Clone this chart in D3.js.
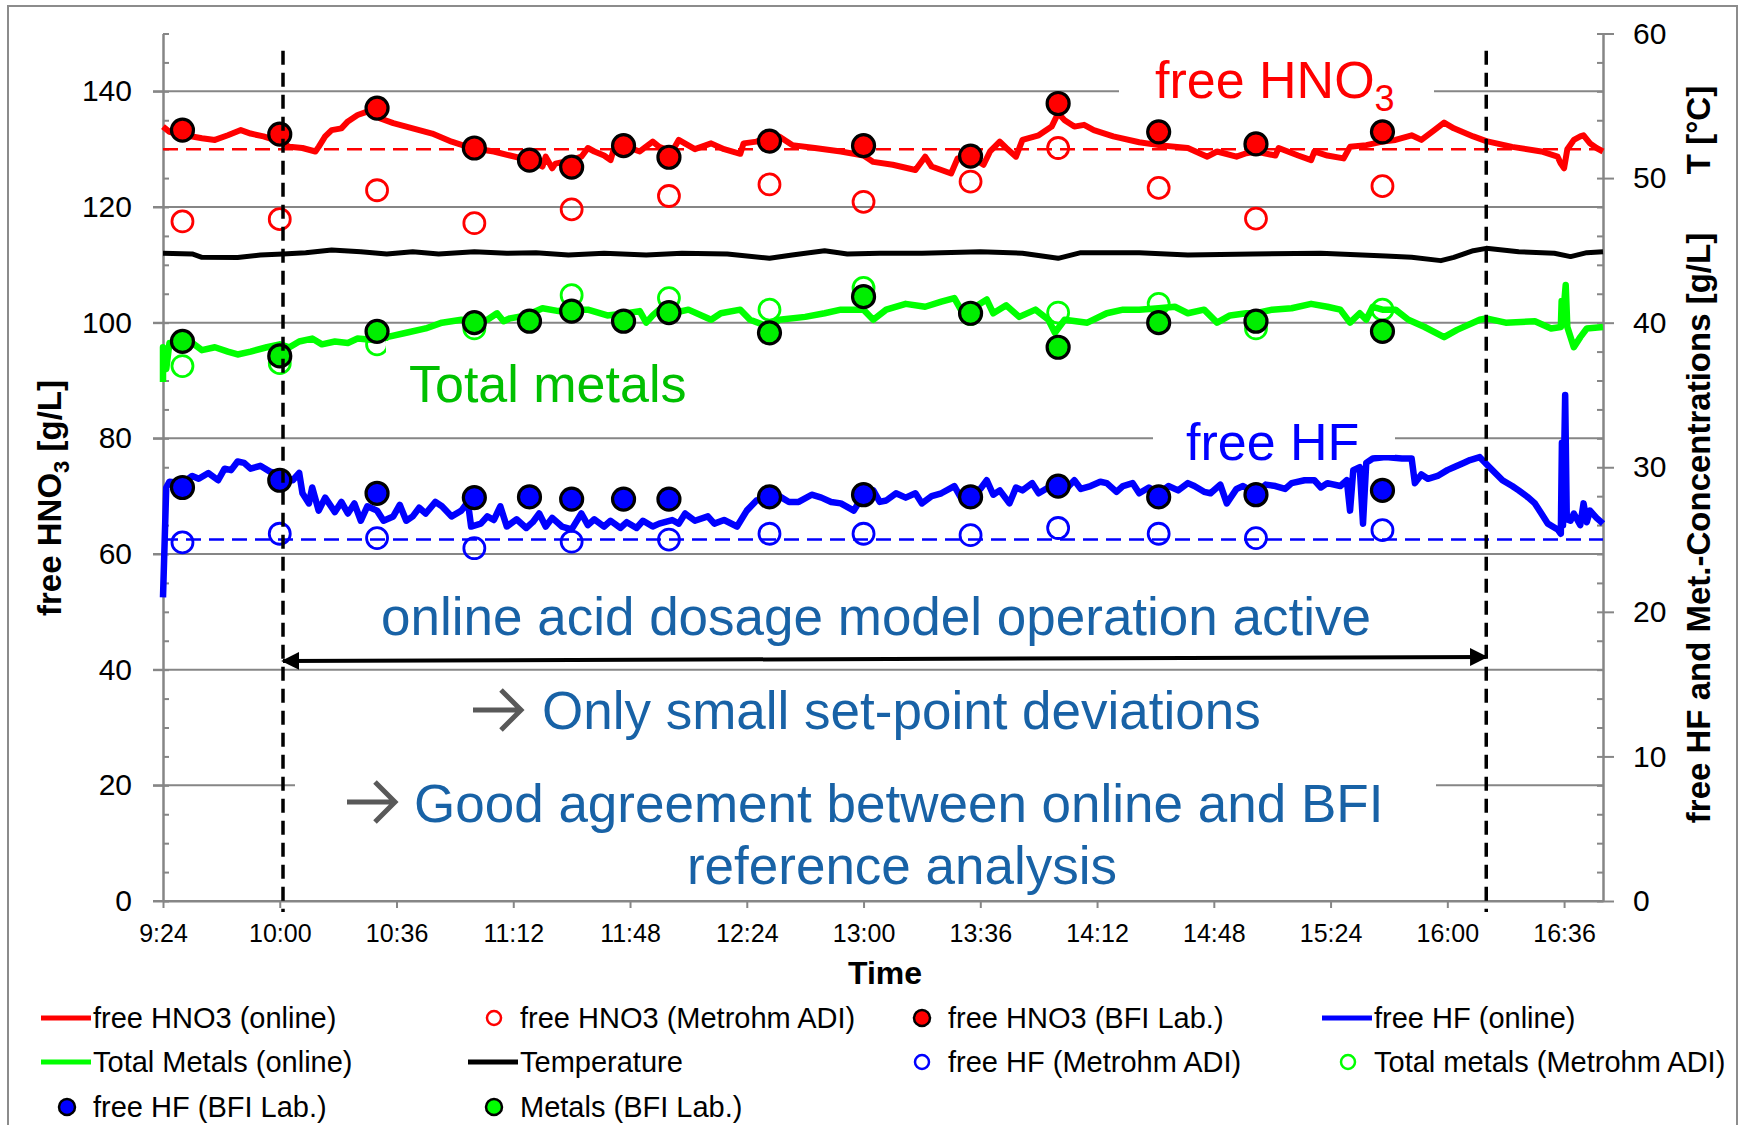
<!DOCTYPE html>
<html>
<head>
<meta charset="utf-8">
<script src="https://cdn.jsdelivr.net/npm/d3@7"></script>
<style>
body { margin: 0; background: #fff; }
svg { display: block; font-family: "Liberation Sans", Arial, sans-serif; }
.axis path, .axis line { stroke: #868686; stroke-width: 2; }
.axis text { fill: #000; font-family: "Liberation Sans", Arial, sans-serif; }
.grid line { stroke: #868686; stroke-width: 2; }
</style>
</head>
<body>
<div id="chart"></div>
<script>
const width = 1746, height = 1125;
const margin = {top: 33.5, bottom: 224, left: 163, right: 143};

// axis ticks
const xTicks = ["9:24", "10:00", "10:36", "11:12", "11:48", "12:24", "13:00", "13:36", "14:12", "14:48", "15:24", "16:00", "16:36"];
const yLeftTicks = [0, 20, 40, 60, 80, 100, 120, 140];
const yRightTicks = [0, 10, 20, 30, 40, 50, 60];

// set points
const hno3SetPoint = 130;
const hfSetPoint = 25;

// lab samples
const bfiTimes = ["9:30", "10:00", "10:30", "11:00", "11:17", "11:30", "11:46", "12:00", "12:31", "13:00", "13:33", "14:00", "14:31", "15:01", "15:40"];
const hno3Bfi = [133.3, 132.6, 137.1, 130.2, 128.1, 126.9, 130.6, 128.6, 131.4, 130.6, 128.8, 137.9, 133.0, 130.9, 133.0];
const metalsBfi = [38.7, 37.7, 39.4, 40.0, 40.1, 40.8, 40.1, 40.7, 39.3, 41.8, 40.65, 38.3, 40.0, 40.1, 39.4];
const hfBfi = [28.6, 29.1, 28.2, 27.9, 27.95, 27.8, 27.8, 27.8, 27.95, 28.1, 27.95, 28.7, 27.95, 28.1, 28.4];

const metrohmTimes = ["9:30", "10:00", "10:30", "11:00", "11:30", "12:00", "12:31", "13:00", "13:33", "14:00", "14:31", "15:01", "15:40"];
const hno3Metrohm = [117.5, 117.9, 122.9, 117.2, 119.6, 121.9, 123.9, 120.9, 124.4, 130.2, 123.3, 118.0, 123.6];
const hfMetrohm = [24.8, 25.4, 25.1, 24.4, 24.85, 25.0, 25.4, 25.4, 25.3, 25.8, 25.4, 25.1, 25.65];
const metalsMetrohm = [37.0, 37.2, 38.5, 39.6, 41.9, 41.7, 40.9, 42.4, 40.6, 40.7, 41.3, 39.6, 40.9];

// online measurements
const hno3Online = [["9:24",133.9],["9:26",133.0],["9:30",132.4],["9:33",132.2],["9:36",131.9],["9:40",131.6],["9:44",132.4],["9:48",133.3],["9:51",132.7],["9:55",132.2],["10:00",131.3],["10:03",130.4],["10:07",130.2],["10:11",129.6],["10:12",130.4],["10:14",132.2],["10:16",133.3],["10:19",133.6],["10:21",134.8],["10:24",135.9],["10:27",136.5],["10:30",137.1],["10:31",135.3],["10:35",134.5],["10:41",133.6],["10:47",132.7],["10:53",131.3],["10:59",130.2],["11:06",129.6],["11:11",128.9],["11:17",128.1],["11:21",127.0],["11:22",128.7],["11:24",126.7],["11:25",127.5],["11:30",128.1],["11:33",128.7],["11:35",130.2],["11:37",129.6],["11:40",128.9],["11:42",128.1],["11:43",130.0],["11:47",130.4],["11:51",129.6],["11:55",131.3],["11:57",130.4],["12:01",129.6],["12:03",131.6],["12:08",130.0],["12:13",131.0],["12:17",130.0],["12:22",129.2],["12:23",131.0],["12:27",131.3],["12:31",132.2],["12:34",132.2],["12:38",130.7],["12:45",130.2],["12:53",129.6],["13:00",128.9],["13:03",127.8],["13:09",127.3],["13:16",126.4],["13:19",128.7],["13:21",127.0],["13:27",125.8],["13:29",128.4],["13:33",128.7],["13:37",127.3],["13:39",129.6],["13:42",131.3],["13:44",130.2],["13:47",128.7],["13:49",131.6],["13:54",132.4],["13:58",133.9],["14:00",136.2],["14:02",135.0],["14:05",133.9],["14:08",134.2],["14:11",133.3],["14:17",132.2],["14:25",131.2],["14:31",130.7],["14:40",130.2],["14:46",128.7],["14:49",129.6],["14:55",128.7],["14:58",129.3],["15:01",129.6],["15:07",128.9],["15:08",130.2],["15:14",128.9],["15:18",128.1],["15:19",129.6],["15:23",128.9],["15:28",128.4],["15:30",130.4],["15:35",130.7],["15:40",131.3],["15:44",131.6],["15:49",132.4],["15:52",131.6],["15:56",133.3],["15:59",134.6],["16:02",133.6],["16:08",132.2],["16:12",131.4],["16:20",130.4],["16:29",129.6],["16:34",128.7],["16:35",127.5],["16:36",126.7],["16:37",130.0],["16:39",131.6],["16:41",132.2],["16:42",132.4],["16:44",131.0],["16:46",130.2],["16:48",129.6]];

const tempOnline = [["9:24",44.8],["9:33",44.75],["9:36",44.52],["9:47",44.5],["9:54",44.68],["10:01",44.75],["10:08",44.84],["10:16",45.03],["10:25",44.91],["10:33",44.75],["10:41",44.91],["10:49",44.75],["11:00",44.91],["11:10",44.8],["11:19",44.84],["11:29",44.68],["11:40",44.8],["11:53",44.68],["12:04",44.8],["12:18",44.75],["12:31",44.45],["12:38",44.68],["12:48",44.98],["12:55",44.75],["13:05",44.8],["13:18",44.8],["13:36",44.91],["13:49",44.8],["14:00",44.45],["14:07",44.84],["14:25",44.84],["14:40",44.68],["15:00",44.75],["15:21",44.8],["15:41",44.61],["15:49",44.52],["15:58",44.29],["16:02",44.52],["16:08",44.98],["16:12",45.14],["16:22",44.91],["16:33",44.8],["16:38",44.57],["16:43",44.84],["16:48",44.91]];

const metalsOnline = [["9:24",35.9],["9:24",38.3],["9:25",36.8],["9:26",38.6],["9:30",38.7],["9:33",38.6],["9:36",38.1],["9:40",38.3],["9:44",38.0],["9:47",37.8],["9:51",38.0],["9:56",38.3],["10:00",38.5],["10:03",38.3],["10:06",38.7],["10:10",38.9],["10:13",38.5],["10:17",38.7],["10:21",38.6],["10:24",38.9],["10:29",38.8],["10:33",39.0],["10:39",39.3],["10:45",39.6],["10:50",40.0],["10:56",40.2],["10:59",40.1],["11:04",40.2],["11:07",40.65],["11:09",40.1],["11:11",40.3],["11:16",40.5],["11:21",41.0],["11:26",40.8],["11:30",40.9],["11:35",40.9],["11:41",40.5],["11:47",40.65],["11:51",40.8],["11:53",40.0],["11:55",40.5],["11:57",40.9],["12:01",40.65],["12:06",40.9],["12:13",40.2],["12:16",40.65],["12:22",40.9],["12:25",40.2],["12:31",39.7],["12:34",40.2],["12:42",40.4],["12:48",40.65],["12:53",40.9],["13:00",40.9],["13:03",40.2],["13:07",40.9],["13:13",41.3],["13:19",41.1],["13:24",41.45],["13:28",41.7],["13:30",40.9],["13:33",40.9],["13:38",41.6],["13:40",40.65],["13:44",41.2],["13:48",40.4],["13:53",40.9],["13:57",40.2],["13:59",39.3],["14:02",40.2],["14:09",40.0],["14:15",40.65],["14:20",40.9],["14:25",40.9],["14:31",41.0],["14:36",41.1],["14:40",40.65],["14:45",40.9],["14:49",40.0],["14:53",40.5],["14:58",40.65],["15:01",40.65],["15:06",40.9],["15:12",41.0],["15:18",41.3],["15:23",41.1],["15:27",40.9],["15:30",40.0],["15:33",40.65],["15:35",40.2],["15:37",41.1],["15:40",40.9],["15:44",40.9],["15:48",40.2],["15:53",39.7],["15:59",39.0],["16:03",39.5],["16:10",40.2],["16:12",40.3],["16:18",40.0],["16:27",40.1],["16:32",39.6],["16:35",39.7],["16:35:15",41.5],["16:35:30",39.9],["16:36:30",42.6],["16:37",39.7],["16:39",38.3],["16:41",39.0],["16:43",39.6],["16:48",39.7]];

const hfOnline = [["9:24",21.0],["9:25",28.6],["9:26",29.0],["9:30",28.9],["9:33",29.4],["9:35",29.2],["9:38",29.6],["9:41",29.1],["9:43",29.9],["9:45",29.8],["9:47",30.4],["9:49",30.3],["9:51",29.9],["9:54",30.1],["9:57",29.7],["10:00",29.5],["10:04",29.1],["10:06",29.6],["10:07",28.2],["10:09",27.5],["10:10",28.6],["10:12",27.0],["10:14",27.9],["10:17",26.9],["10:19",27.6],["10:21",26.8],["10:23",27.5],["10:25",26.3],["10:27",27.3],["10:30",27.0],["10:32",26.3],["10:35",26.6],["10:37",27.4],["10:39",26.3],["10:41",26.6],["10:43",27.2],["10:45",26.8],["10:48",27.6],["10:50",27.3],["10:53",26.6],["10:56",27.0],["10:58",27.6],["10:59",25.9],["11:02",26.1],["11:04",26.6],["11:06",26.35],["11:08",27.3],["11:10",25.9],["11:13",26.4],["11:16",25.8],["11:18",26.2],["11:20",26.8],["11:22",25.9],["11:24",26.5],["11:27",25.9],["11:30",25.7],["11:33",26.8],["11:35",26.0],["11:37",26.4],["11:40",25.9],["11:42",26.3],["11:45",25.8],["11:47",26.2],["11:50",25.8],["11:52",26.3],["11:55",25.9],["11:57",26.1],["12:01",26.35],["12:03",26.1],["12:05",26.8],["12:08",26.3],["12:12",26.6],["12:14",26.1],["12:17",26.35],["12:21",25.9],["12:24",27.0],["12:27",27.7],["12:31",27.85],["12:34",28.0],["12:37",27.6],["12:40",27.6],["12:44",28.1],["12:47",27.9],["12:50",27.6],["12:53",27.5],["12:57",27.0],["13:00",28.1],["13:03",28.4],["13:05",27.6],["13:07",27.7],["13:10",28.2],["13:13",27.9],["13:16",28.2],["13:18",27.5],["13:21",28.0],["13:24",28.2],["13:28",28.7],["13:30",27.9],["13:33",28.2],["13:36",28.5],["13:38",29.1],["13:40",28.1],["13:42",28.4],["13:45",27.5],["13:47",28.6],["13:49",28.4],["13:52",28.9],["13:54",28.2],["13:57",28.6],["14:00",28.9],["14:02",28.4],["14:05",29.1],["14:07",28.5],["14:10",28.7],["14:13",29.0],["14:15",28.9],["14:18",28.3],["14:20",28.7],["14:23",28.9],["14:25",28.2],["14:28",28.6],["14:31",28.2],["14:34",28.7],["14:37",28.4],["14:40",28.9],["14:42",28.7],["14:45",28.3],["14:47",28.2],["14:50",28.8],["14:52",27.5],["14:55",28.5],["14:57",28.7],["15:01",28.2],["15:04",28.8],["15:07",28.7],["15:10",28.5],["15:12",28.9],["15:16",29.1],["15:19",29.1],["15:21",28.6],["15:23",28.9],["15:27",28.7],["15:29",29.1],["15:30",27.0],["15:31",29.8],["15:33",30.0],["15:34",26.1],["15:35",30.3],["15:37",30.6],["15:41",30.7],["15:46",30.6],["15:49",30.6],["15:50",28.9],["15:52",29.5],["15:54",29.2],["15:57",29.4],["16:00",29.8],["16:02",30.0],["16:05",30.3],["16:07",30.5],["16:10",30.7],["16:13",30.0],["16:17",29.1],["16:20",28.7],["16:22",28.4],["16:25",27.9],["16:27",27.5],["16:29",26.8],["16:31",26.1],["16:34",25.7],["16:35",25.4],["16:35:20",31.7],["16:35:40",26.0],["16:36:20",35.0],["16:36:50",26.4],["16:38",26.3],["16:39",26.8],["16:41",26.0],["16:42",27.5],["16:43",26.2],["16:44",27.0],["16:46",26.5],["16:48",26.1]];

// dosage model period
const modelStart = "10:01", modelEnd = "16:12";

const legendItems = [
    {label: "free HNO3 (online)", kind: "line", color: "#ff0000"},
    {label: "free HNO3 (Metrohm ADI)", kind: "open", color: "#ff0000"},
    {label: "free HNO3 (BFI Lab.)", kind: "filled", color: "#ff0000"},
    {label: "free HF (online)", kind: "line", color: "#0000ff"},
    {label: "Total Metals (online)", kind: "line", color: "#00ff00"},
    {label: "Temperature", kind: "line", color: "#000000"},
    {label: "free HF (Metrohm ADI)", kind: "open", color: "#0000ff"},
    {label: "Total metals (Metrohm ADI)", kind: "open", color: "#00ff00"},
    {label: "free HF (BFI Lab.)", kind: "filled", color: "#0000ff"},
    {label: "Metals (BFI Lab.)", kind: "filled", color: "#00ff00"}
];
const legendCols = [93, 520, 948, 1374];
const legendRows = [1018, 1062, 1107];

const textBlue = '#1862a6';

const parseTime = function(s) {
    const p = s.split(':').map(Number);
    return new Date(2014, 0, 1, p[0], p[1], p[2] || 0);
};

const plotBottom = height - margin.bottom;
const plotRight = width - margin.right;

const xScale = d3.scaleTime().domain([parseTime("9:24"), parseTime("16:48")]).range([margin.left, plotRight]);
const yLeft = d3.scaleLinear().domain([0, 150]).range([plotBottom, margin.top]);
const yRight = d3.scaleLinear().domain([0, 60]).range([plotBottom, margin.top]);

function drawAxes(svg) {
    // gridlines
    svg.append('g')
        .attr('class', 'grid')
        .selectAll('line')
        .data(yLeftTicks)
        .enter()
        .append('line')
        .attr('x1', margin.left - 10)
        .attr('x2', plotRight)
        .attr('y1', d => yLeft(d))
        .attr('y2', d => yLeft(d));

    // left axis: minor ticks inside, major outside
    svg.append('g')
        .attr('class', 'axis')
        .attr('transform', 'translate(' + margin.left + ',0)')
        .call(d3.axisRight(yLeft).tickValues(d3.range(0, 151, 5)).tickSize(6).tickSizeOuter(0).tickFormat(''));
    svg.append('g')
        .attr('class', 'axis')
        .attr('transform', 'translate(' + margin.left + ',0)')
        .call(d3.axisLeft(yLeft).tickValues(yLeftTicks).tickSize(10).tickSizeOuter(0).tickPadding(21))
        .selectAll('text').style('font-size', '30px');

    // right axis
    svg.append('g')
        .attr('class', 'axis')
        .attr('transform', 'translate(' + plotRight + ',0)')
        .call(d3.axisLeft(yRight).tickValues(d3.range(0, 61, 2)).tickSize(6).tickSizeOuter(0).tickFormat(''));
    svg.append('g')
        .attr('class', 'axis')
        .attr('transform', 'translate(' + plotRight + ',0)')
        .call(d3.axisRight(yRight).tickValues(yRightTicks).tickSize(11).tickSizeOuter(0).tickPadding(19))
        .selectAll('text').style('font-size', '30px');

    // x axis
    svg.append('g')
        .attr('class', 'axis')
        .attr('transform', 'translate(0,' + plotBottom + ')')
        .call(d3.axisBottom(xScale).tickValues(xTicks.map(parseTime)).tickSize(7).tickSizeOuter(0).tickPadding(16)
            .tickFormat(d3.timeFormat('%-H:%M')))
        .selectAll('text').style('font-size', '25px');
}

function drawSeries(svg) {
    const lineL = d3.line().x(d => xScale(parseTime(d[0]))).y(d => yLeft(d[1]));
    const lineR = d3.line().x(d => xScale(parseTime(d[0]))).y(d => yRight(d[1]));

    // set points
    svg.append('line')
        .attr('x1', margin.left).attr('x2', plotRight)
        .attr('y1', yLeft(hno3SetPoint)).attr('y2', yLeft(hno3SetPoint))
        .attr('stroke', '#ff0000').attr('stroke-width', 2.5).attr('stroke-dasharray', '15,8');
    svg.append('line')
        .attr('x1', margin.left).attr('x2', plotRight)
        .attr('y1', yRight(hfSetPoint)).attr('y2', yRight(hfSetPoint))
        .attr('stroke', '#0000ff').attr('stroke-width', 2.5).attr('stroke-dasharray', '15,8');

    const series = [
        {data: hno3Online, line: lineL, color: '#ff0000', w: 6},
        {data: tempOnline, line: lineR, color: '#000000', w: 5},
        {data: metalsOnline, line: lineR, color: '#00ff00', w: 6.5},
        {data: hfOnline, line: lineR, color: '#0000ff', w: 6.5}
    ];
    series.forEach(function(s) {
        svg.append('path')
            .datum(s.data)
            .attr('fill', 'none')
            .attr('stroke', s.color)
            .attr('stroke-width', s.w)
            .attr('stroke-linejoin', 'round')
            .attr('d', s.line);
    });

    // Metrohm ADI (open)
    const openSets = [
        {vals: hno3Metrohm, y: yLeft, color: '#ff0000'},
        {vals: hfMetrohm, y: yRight, color: '#0000ff'},
        {vals: metalsMetrohm, y: yRight, color: '#00ff00'}
    ];
    openSets.forEach(function(s) {
        svg.append('g').selectAll('circle')
            .data(s.vals)
            .enter()
            .append('circle')
            .attr('cx', (d, i) => xScale(parseTime(metrohmTimes[i])))
            .attr('cy', d => s.y(d))
            .attr('r', 10.5)
            .attr('fill', 'none')
            .attr('stroke', s.color)
            .attr('stroke-width', 2.8);
    });

    // BFI lab (filled)
    const filledSets = [
        {vals: hno3Bfi, y: yLeft, color: '#ff0000'},
        {vals: hfBfi, y: yRight, color: '#0000ff'},
        {vals: metalsBfi, y: yRight, color: '#00ee00'}
    ];
    filledSets.forEach(function(s) {
        svg.append('g').selectAll('circle')
            .data(s.vals)
            .enter()
            .append('circle')
            .attr('cx', (d, i) => xScale(parseTime(bfiTimes[i])))
            .attr('cy', d => s.y(d))
            .attr('r', 11)
            .attr('fill', s.color)
            .attr('stroke', '#000')
            .attr('stroke-width', 3.2);
    });
}

function drawAnnotations(svg) {
    // white label boxes
    const boxes = [[1119, 52, 315, 66], [386, 341, 330, 78], [1153, 405, 242, 50], [295, 745, 1141, 148]];
    svg.append('g').selectAll('rect')
        .data(boxes)
        .enter()
        .append('rect')
        .attr('x', d => d[0]).attr('y', d => d[1])
        .attr('width', d => d[2]).attr('height', d => d[3])
        .attr('fill', '#fff');

    // vertical dashed lines
    [modelStart, modelEnd].forEach(function(t) {
        svg.append('line')
            .attr('x1', xScale(parseTime(t))).attr('x2', xScale(parseTime(t)))
            .attr('y1', yLeft(147)).attr('y2', yLeft(-1.9))
            .attr('stroke', '#000').attr('stroke-width', 3.5).attr('stroke-dasharray', '14,8');
    });

    // double arrow
    const defs = svg.append('defs');
    ['arrowEnd', 'arrowStart'].forEach(function(id, k) {
        defs.append('marker')
            .attr('id', id)
            .attr('viewBox', '0 0 10 10')
            .attr('refX', 9).attr('refY', 5)
            .attr('markerWidth', 4.5).attr('markerHeight', 4.5)
            .attr('orient', k === 0 ? 'auto' : 'auto-start-reverse')
            .append('path').attr('d', 'M0,0 L10,5 L0,10 z').attr('fill', '#000');
    });
    svg.append('line')
        .attr('x1', xScale(parseTime(modelStart))).attr('y1', yLeft(41.5))
        .attr('x2', xScale(parseTime(modelEnd))).attr('y2', yLeft(42.2))
        .attr('stroke', '#000').attr('stroke-width', 4)
        .attr('marker-start', 'url(#arrowStart)')
        .attr('marker-end', 'url(#arrowEnd)');

    // series labels
    const hno3Label = svg.append('text')
        .attr('x', 1155).attr('y', 98)
        .attr('fill', '#ff0000').style('font-size', '52px');
    hno3Label.append('tspan').text('free HNO');
    hno3Label.append('tspan').attr('dy', 13).style('font-size', '36px').text('3');

    svg.append('text')
        .attr('x', 409).attr('y', 402)
        .attr('fill', '#00c000').style('font-size', '52px')
        .text('Total metals');
    svg.append('text')
        .attr('x', 1186).attr('y', 460)
        .attr('fill', '#0000ff').style('font-size', '52px')
        .text('free HF');

    // comments
    svg.append('text')
        .attr('x', 876).attr('y', 635)
        .attr('text-anchor', 'middle')
        .attr('fill', textBlue).style('font-size', '53px')
        .text('online acid dosage model operation active');
    svg.append('text')
        .attr('x', 542).attr('y', 729)
        .attr('fill', textBlue).style('font-size', '53px')
        .text('Only small set-point deviations');
    svg.append('text')
        .attr('x', 414).attr('y', 822)
        .attr('fill', textBlue).style('font-size', '53px')
        .text('Good agreement between online and BFI');
    svg.append('text')
        .attr('x', 902).attr('y', 884)
        .attr('text-anchor', 'middle')
        .attr('fill', textBlue).style('font-size', '53px')
        .text('reference analysis');

    // bullet arrows
    const bullets = [[473, 710], [347, 802]];
    svg.append('g').selectAll('path')
        .data(bullets)
        .enter()
        .append('path')
        .attr('d', d => 'M' + d[0] + ',' + d[1] + ' h48 M' + (d[0] + 28) + ',' + (d[1] - 20) + ' l20,20 l-20,20')
        .attr('fill', 'none')
        .attr('stroke', '#595959')
        .attr('stroke-width', 5);
}

function drawTitles(svg) {
    const left = svg.append('text')
        .attr('transform', 'translate(61,498) rotate(-90)')
        .attr('text-anchor', 'middle')
        .style('font-size', '33px').style('font-weight', 'bold');
    left.append('tspan').text('free HNO');
    left.append('tspan').attr('dy', 8).style('font-size', '22px').text('3');
    left.append('tspan').attr('dy', -8).text(' [g/L]');

    svg.append('text')
        .attr('transform', 'translate(1710,130) rotate(-90)')
        .attr('text-anchor', 'middle')
        .style('font-size', '33px').style('font-weight', 'bold')
        .text('T [°C]');
    svg.append('text')
        .attr('transform', 'translate(1710,528) rotate(-90)')
        .attr('text-anchor', 'middle')
        .style('font-size', '33px').style('font-weight', 'bold')
        .text('free HF and Met.-Concentrations [g/L]');

    svg.append('text')
        .attr('x', 885).attr('y', 984)
        .attr('text-anchor', 'middle')
        .style('font-size', '32px').style('font-weight', 'bold')
        .text('Time');
}

function drawLegend(svg) {
    const items = svg.append('g').selectAll('g')
        .data(legendItems)
        .enter()
        .append('g')
        .attr('transform', (d, i) => 'translate(' + legendCols[i % 4] + ',' + legendRows[Math.floor(i / 4)] + ')');

    items.filter(d => d.kind === 'line')
        .append('line')
        .attr('x1', -52).attr('x2', -2)
        .attr('stroke', d => d.color).attr('stroke-width', 5);
    items.filter(d => d.kind === 'open')
        .append('circle')
        .attr('cx', -26).attr('r', 7)
        .attr('fill', 'none').attr('stroke', d => d.color).attr('stroke-width', 2.5);
    items.filter(d => d.kind === 'filled')
        .append('circle')
        .attr('cx', -26).attr('r', 8)
        .attr('fill', d => d.color).attr('stroke', '#000').attr('stroke-width', 2.5);

    items.append('text')
        .attr('x', 0).attr('y', 10)
        .style('font-size', '29px')
        .text(d => d.label);
}

function drawChart() {
    const svg = d3.select('#chart')
        .append('svg')
        .attr('width', width)
        .attr('height', height);

    svg.append('rect')
        .attr('x', 8).attr('y', 6)
        .attr('width', 1729).attr('height', 1130)
        .attr('fill', '#fff')
        .attr('stroke', '#8c8c8c').attr('stroke-width', 2);

    drawAxes(svg);
    drawSeries(svg);
    drawAnnotations(svg);
    drawTitles(svg);
    drawLegend(svg);
}

drawChart();
</script>
</body>
</html>
